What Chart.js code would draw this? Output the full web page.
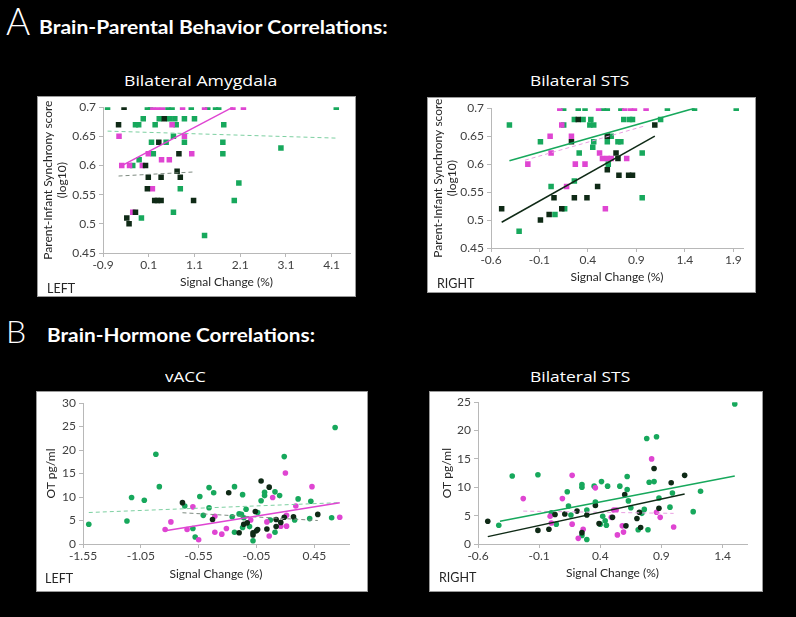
<!DOCTYPE html>
<html>
<head>
<meta charset="utf-8">
<script src="https://cdn.jsdelivr.net/npm/chart.js@4.4.0/dist/chart.umd.min.js"></script>
<style>
    body { margin: 0; background: #000; width: 796px; height: 617px; overflow: hidden; position: relative; font-family: Lato, sans-serif; color: #fff; }
    .t { position: absolute; white-space: nowrap; line-height: 1; transform-origin: 0 0; }
    .sub { font-family: 'Open Sans', Lato, sans-serif; font-weight: 400; font-size: 15px; }
    .box { position: absolute; background: #fff; border: 1px solid #9a9a9a; box-sizing: border-box; }
    .box canvas { position: absolute; left: 0; top: 0; }
    .side { color: #262626; font-size: 12.5px; z-index: 2; }
</style>
</head>
<body>

<div class="t" style="left:6px;top:2px;font-size:37px;font-weight:300;">A</div>
<div class="t fit" data-w="349" style="left:39px;top:17px;font-size:19px;font-weight:bold;">Brain-Parental Behavior Correlations:</div>
<div class="t fit sub" data-w="153" style="left:124px;top:73px;">Bilateral Amygdala</div>
<div class="t fit sub" data-w="99" style="left:530px;top:73px;">Bilateral STS</div>

<div class="t" style="left:6px;top:315px;font-size:32px;font-weight:300;">B</div>
<div class="t fit" data-w="268" style="left:47px;top:326px;font-size:18px;font-weight:bold;">Brain-Hormone Correlations:</div>
<div class="t fit sub" data-w="41" style="left:165px;top:369px;">vACC</div>
<div class="t fit sub" data-w="100" style="left:530px;top:369px;">Bilateral STS</div>

<div class="box" style="left:37px;top:96px;width:319px;height:201px;"><canvas id="amyChart" width="317" height="199"></canvas></div>
<div class="box" style="left:427px;top:97px;width:329px;height:196px;"><canvas id="stsChart" width="327" height="194"></canvas></div>
<div class="box" style="left:36px;top:391px;width:332px;height:201px;"><canvas id="vaccChart" width="330" height="199"></canvas></div>
<div class="box" style="left:429px;top:391px;width:334px;height:201px;"><canvas id="stsOtChart" width="332" height="199"></canvas></div>

<div class="t side" style="left:47px;top:283px;">LEFT</div>
<div class="t side" style="left:437px;top:278px;">RIGHT</div>
<div class="t side" style="left:45px;top:573px;">LEFT</div>
<div class="t side" style="left:439px;top:572px;">RIGHT</div>

<script>
// ================================================================
// DATA  (x = signal change %, y = synchrony score / OT pg/ml)
// ================================================================

// A - Bilateral Amygdala (LEFT)
const amyGreen = [
    [-0.80, 0.70], [0.07, 0.70], [0.14, 0.70], [0.52, 0.70], [0.61, 0.70], [1.03, 0.70], [1.39, 0.70], [1.56, 0.70], [1.63, 0.70], [4.20, 0.70],
    [-0.02, 0.68], [0.33, 0.68], [0.55, 0.68], [0.67, 0.68], [0.88, 0.68], [1.10, 0.68],
    [-0.19, 0.67], [-0.12, 0.67], [0.24, 0.67], [0.70, 0.67], [1.74, 0.67],
    [0.64, 0.65], [0.16, 0.64], [0.48, 0.64], [0.88, 0.64], [1.72, 0.64], [2.99, 0.63],
    [0.20, 0.62], [1.72, 0.62], [-0.11, 0.61], [-0.25, 0.60],
    [0.79, 0.56], [2.07, 0.57], [1.97, 0.54], [0.64, 0.52], [-0.06, 0.51], [1.32, 0.48]
];
const amyDark = [
    [-0.44, 0.70], [0.44, 0.68], [-0.56, 0.67], [0.32, 0.64], [0.76, 0.62], [0.03, 0.60], [0.72, 0.59],
    [0.09, 0.58], [0.37, 0.58], [0.79, 0.58], [0.07, 0.56], [0.23, 0.54], [0.29, 0.54], [0.37, 0.54],
    [1.08, 0.54], [-0.19, 0.52], [-0.38, 0.51], [-0.33, 0.50]
];
const amyPink = [
    [0.19, 0.70], [0.29, 0.70], [0.40, 0.70], [0.84, 0.70], [1.32, 0.70], [1.94, 0.70], [2.17, 0.70],
    [0.61, 0.67], [-0.55, 0.65], [0.88, 0.65], [0.09, 0.62], [1.04, 0.62], [0.38, 0.61], [0.55, 0.61],
    [-0.49, 0.60], [-0.32, 0.60], [-0.04, 0.60], [0.18, 0.56], [-0.25, 0.52]
];
const amyGreenFit = [[-0.80, 0.659], [4.20, 0.647]];
const amyDarkFit = [[-0.56, 0.582], [1.10, 0.589]];
const amyPinkFit = [[-0.53, 0.598], [1.94, 0.700]];
const amyXTicks = [-0.9, 0.1, 1.1, 2.1, 3.1, 4.1];
const amyYTicks = [0.45, 0.5, 0.55, 0.6, 0.65, 0.7];

// A - Bilateral STS (RIGHT)
const stsGreen = [
    [0.15, 0.70], [0.30, 0.70], [0.37, 0.70], [0.56, 0.70], [0.60, 0.70], [0.74, 0.70], [1.22, 0.70], [1.50, 0.70], [1.93, 0.70],
    [0.26, 0.68], [0.35, 0.68], [0.43, 0.68], [0.77, 0.68], [0.83, 0.68], [0.86, 0.68], [1.15, 0.68],
    [-0.41, 0.67], [0.15, 0.67], [0.42, 0.67], [0.46, 0.67], [0.64, 0.65],
    [-0.09, 0.64], [0.46, 0.64], [0.60, 0.64], [0.71, 0.64], [0.74, 0.64], [0.45, 0.63],
    [0.31, 0.62], [0.96, 0.62], [0.61, 0.60], [0.26, 0.57], [0.02, 0.56], [0.96, 0.54],
    [0.16, 0.52], [0.06, 0.51], [-0.31, 0.48]
];
const stsDark = [
    [0.30, 0.68], [1.09, 0.67], [0.60, 0.65], [0.23, 0.64], [0.69, 0.62], [0.71, 0.61], [0.60, 0.59],
    [0.72, 0.58], [0.82, 0.58], [0.86, 0.58], [0.50, 0.56], [0.05, 0.54], [0.26, 0.54], [0.39, 0.54],
    [-0.49, 0.52], [0.13, 0.52], [0.00, 0.51], [-0.09, 0.50]
];
const stsPink = [
    [0.11, 0.70], [0.51, 0.70], [0.78, 0.70], [0.84, 0.70], [0.88, 0.70], [1.00, 0.70],
    [0.13, 0.67], [0.01, 0.65], [0.23, 0.65], [0.02, 0.62], [0.52, 0.62],
    [0.55, 0.61], [0.60, 0.61], [0.64, 0.61], [0.80, 0.61],
    [-0.22, 0.60], [0.27, 0.60], [0.37, 0.60], [0.18, 0.56], [0.58, 0.52]
];
const stsGreenFit = [[-0.41, 0.606], [1.50, 0.700]];
const stsDarkFit = [[-0.49, 0.496], [1.09, 0.650]];
const stsPinkFit = [[-0.25, 0.607], [1.00, 0.669]];
const stsXTicks = [-0.6, -0.1, 0.4, 0.9, 1.4, 1.9];
const stsYTicks = [0.45, 0.5, 0.55, 0.6, 0.65, 0.7];

// B - vACC (LEFT)
const vaccGreen = [
    [-1.50, 4.2], [-1.17, 4.9], [-1.13, 9.9], [-1.02, 9.3], [-0.92, 19.1], [-0.89, 12.2], [-0.67, 8.1],
    [-0.60, 3.3], [-0.58, 1.5], [-0.54, 10.1], [-0.51, 6.1], [-0.46, 12.0], [-0.46, 7.7],
    [-0.42, 10.9], [-0.26, 5.8], [-0.24, 12.2], [-0.24, 2.5], [-0.20, 6.4], [-0.18, 6.3], [-0.17, 10.5],
    [-0.14, 7.4], [-0.16, 5.6], [-0.17, 3.5], [-0.11, 3.7], [-0.08, 0.7], [-0.04, 6.7], [-0.01, 9.2],
    [0.02, 10.3], [0.02, 11.0], [0.07, 5.1], [0.11, 11.1], [0.11, 2.5], [0.15, 10.3], [0.19, 18.6],
    [0.28, 5.1], [0.31, 9.6], [0.41, 5.4], [0.42, 9.1], [0.60, 5.6], [0.63, 24.8]
];
const vaccDark = [
    [-0.69, 8.8], [-0.43, 5.2], [-0.29, 10.9], [-0.20, 2.4], [-0.16, 4.2], [-0.13, 4.5], [-0.08, 2.4],
    [-0.08, 1.9], [-0.05, 2.8], [-0.04, 3.1], [-0.06, 6.9], [-0.01, 13.4], [0.04, 3.2], [0.06, 12.1],
    [0.12, 5.2], [0.12, 3.7], [0.16, 4.6], [0.19, 5.7], [0.27, 5.8], [0.48, 6.3]
];
const vaccPink = [
    [-0.84, 3.1], [-0.79, 4.7], [-0.65, 3.1], [-0.60, 7.9], [-0.55, 0.9], [-0.41, 5.9], [-0.41, 2.5],
    [-0.35, 2.1], [-0.31, 3.3], [-0.10, 5.1], [0.04, 4.7], [0.06, 1.7], [0.09, 9.9], [0.16, 3.8],
    [0.21, 6.1], [0.21, 3.8], [0.20, 15.1], [0.29, 8.1], [0.43, 12.2], [0.67, 5.7]
];
const vaccGreenFit = [[-1.50, 6.7], [0.67, 8.8]];
const vaccDarkFit = [[-0.69, 6.65], [0.48, 5.0]];
const vaccPinkFit = [[-0.84, 2.8], [0.67, 8.8]];
const vaccXTicks = [-1.55, -1.05, -0.55, -0.05, 0.45];
const vaccYTicks = [0, 5, 10, 15, 20, 25, 30];

// B - Bilateral STS (RIGHT)
const stsOtGreen = [
    [-0.43, 3.3], [-0.32, 12.0], [-0.11, 12.2], [0.00, 5.5], [0.04, 3.5], [0.13, 9.2], [0.14, 6.7],
    [0.16, 5.1], [0.25, 10.5], [0.25, 10.0], [0.25, 1.5], [0.29, 6.0], [0.29, 0.8], [0.35, 10.2],
    [0.36, 7.4], [0.41, 11.0], [0.42, 4.9], [0.44, 4.1], [0.45, 3.3], [0.46, 10.2], [0.40, 3.5],
    [0.56, 10.2], [0.62, 11.9], [0.62, 9.6], [0.63, 7.6], [0.65, 6.4], [0.71, 2.5], [0.74, 5.4],
    [0.76, 6.1], [0.79, 2.5], [0.78, 18.6], [0.86, 18.9], [0.80, 10.9], [0.84, 11.0], [0.88, 8.1],
    [0.97, 6.5], [0.99, 9.0], [1.16, 5.7], [1.22, 9.3], [1.50, 24.7]
];
const stsOtDark = [
    [-0.52, 4.0], [-0.11, 2.4], [-0.02, 2.6], [0.03, 5.2], [0.11, 5.3], [0.21, 5.8], [0.25, 2.0],
    [0.29, 5.1], [0.36, 6.8], [0.39, 3.6], [0.50, 4.7], [0.61, 3.2], [0.60, 8.7], [0.70, 4.5],
    [0.72, 5.6], [0.73, 2.9], [0.84, 13.3], [0.88, 6.3], [0.98, 10.8], [1.09, 12.1]
];
const stsOtPink = [
    [-0.23, 8.0], [-0.01, 4.9], [0.00, 3.7], [0.09, 8.0], [0.17, 12.1], [0.17, 3.5], [0.22, 1.0],
    [0.26, 2.6], [0.36, 9.9], [0.51, 6.0], [0.53, 6.0], [0.49, 4.7], [0.54, 1.6], [0.58, 3.2],
    [0.59, 2.1], [0.82, 15.0], [0.86, 5.6], [0.89, 4.7], [1.00, 3.0]
];
const stsOtGreenFit = [[-0.42, 4.0], [1.50, 12.0]];
const stsOtDarkFit = [[-0.52, 1.3], [1.09, 8.8]];
const stsOtPinkFit = [[-0.23, 5.8], [1.00, 5.4]];
const stsOtXTicks = [-0.6, -0.1, 0.4, 0.9, 1.4];
const stsOtYTicks = [0, 5, 10, 15, 20, 25];

// ================================================================
// STYLE
// ================================================================

const COLORS = {
    green: '#17a85c',
    dark: '#0f2a16',
    pink: '#df45d2',
    greenDash: '#7ccfa0',
    darkDash: '#7d8a80',
    pinkDash: '#eaa0e2'
};
const AXIS_COLOR = '#b8b8b8';
const TICK_COLOR = '#404040';
const FONT = { family: 'Lato', size: 12 };

// ================================================================
// HELPERS
// ================================================================

function toPoints(arr) {
    return arr.map(([x, y]) => ({ x, y }));
}

function markerSet(arr, color, style, radius) {
    return {
        data: toPoints(arr),
        backgroundColor: color,
        borderWidth: 0,
        pointStyle: style,
        pointRadius: radius,
        pointHoverRadius: radius
    };
}

function fitSet(arr, color, dashed) {
    return {
        data: toPoints(arr),
        showLine: true,
        borderColor: color,
        borderWidth: dashed ? 1 : 1.5,
        borderDash: dashed ? [4, 3] : [],
        pointRadius: 0,
        fill: false
    };
}

function makeChart(id, cfg) {
    const el = document.getElementById(id);
    return new Chart(el, {
        type: 'scatter',
        data: { datasets: cfg.datasets },
        options: {
            responsive: false,
            animation: false,
            events: [],
            layout: { padding: { left: 0, top: cfg.area.top, right: cfg.area.right, bottom: 0 } },
            plugins: { legend: { display: false }, tooltip: { enabled: false } },
            scales: {
                x: {
                    type: 'linear',
                    min: cfg.xMin,
                    max: cfg.xMax,
                    afterBuildTicks: s => { s.ticks = cfg.xTicks.map(v => ({ value: v })); },
                    afterFit: s => { s.height = cfg.area.bottom; },
                    ticks: { autoSkip: false, maxRotation: 0, padding: 1, color: TICK_COLOR, font: FONT, callback: v => String(v) },
                    grid: { display: true, drawOnChartArea: false, drawTicks: true, tickLength: 4, color: AXIS_COLOR },
                    border: { display: true, color: AXIS_COLOR },
                    title: { display: true, text: 'Signal Change (%)', color: '#262626', font: FONT, padding: { top: 0, bottom: cfg.xTitlePad } }
                },
                y: {
                    type: 'linear',
                    min: cfg.yMin,
                    max: cfg.yMax,
                    afterBuildTicks: s => { s.ticks = cfg.yTicks.map(v => ({ value: v })); },
                    afterFit: s => { s.width = cfg.area.left; },
                    ticks: { autoSkip: false, padding: 3, color: TICK_COLOR, font: FONT, callback: v => String(v) },
                    grid: { display: true, drawOnChartArea: false, drawTicks: true, tickLength: 4, color: AXIS_COLOR },
                    border: { display: true, color: AXIS_COLOR },
                    title: { display: true, text: cfg.yTitle, color: '#262626', font: FONT, padding: { top: cfg.yTitlePad, bottom: 0 } }
                }
            }
        }
    });
}

// ================================================================
// CHARTS
// ================================================================

const SYNC_TITLE = ['Parent-Infant Synchrony score', '(log10)'];

makeChart('amyChart', {
    datasets: [
        fitSet(amyPinkFit, COLORS.pink, false),
        fitSet(amyGreenFit, COLORS.greenDash, true),
        fitSet(amyDarkFit, COLORS.darkDash, true),
        markerSet(amyDark, COLORS.dark, 'rect', 3.9),
        markerSet(amyPink, COLORS.pink, 'rect', 3.9),
        markerSet(amyGreen, COLORS.green, 'rect', 3.9)
    ],
    xMin: -0.9, xMax: 4.5, xTicks: amyXTicks,
    yMin: 0.45, yMax: 0.7, yTicks: amyYTicks,
    yTitle: SYNC_TITLE, yTitlePad: 3, xTitlePad: 7,
    area: { left: 65, top: 10, right: 5, bottom: 43 }
});

makeChart('stsChart', {
    datasets: [
        fitSet(stsGreenFit, COLORS.green, false),
        fitSet(stsDarkFit, COLORS.dark, false),
        fitSet(stsPinkFit, COLORS.pinkDash, true),
        markerSet(stsDark, COLORS.dark, 'rect', 3.9),
        markerSet(stsPink, COLORS.pink, 'rect', 3.9),
        markerSet(stsGreen, COLORS.green, 'rect', 3.9)
    ],
    xMin: -0.6, xMax: 2.0, xTicks: stsXTicks,
    yMin: 0.45, yMax: 0.7, yTicks: stsYTicks,
    yTitle: SYNC_TITLE, yTitlePad: 3, xTitlePad: 8,
    area: { left: 63, top: 8, right: 12, bottom: 44 }
});

makeChart('vaccChart', {
    datasets: [
        fitSet(vaccPinkFit, COLORS.pink, false),
        fitSet(vaccGreenFit, COLORS.greenDash, true),
        fitSet(vaccDarkFit, COLORS.darkDash, true),
        markerSet(vaccDark, COLORS.dark, 'circle', 2.8),
        markerSet(vaccPink, COLORS.pink, 'circle', 2.8),
        markerSet(vaccGreen, COLORS.green, 'circle', 2.8)
    ],
    xMin: -1.55, xMax: 0.75, xTicks: vaccXTicks,
    yMin: 0, yMax: 30, yTicks: vaccYTicks,
    yTitle: 'OT pg/ml', yTitlePad: 6.5, xTitlePad: 10,
    area: { left: 46, top: 11, right: 18, bottom: 47 }
});

makeChart('stsOtChart', {
    datasets: [
        fitSet(stsOtGreenFit, COLORS.green, false),
        fitSet(stsOtDarkFit, COLORS.dark, false),
        fitSet(stsOtPinkFit, COLORS.pinkDash, true),
        markerSet(stsOtDark, COLORS.dark, 'circle', 2.8),
        markerSet(stsOtPink, COLORS.pink, 'circle', 2.8),
        markerSet(stsOtGreen, COLORS.green, 'circle', 2.8)
    ],
    xMin: -0.6, xMax: 1.6, xTicks: stsOtXTicks,
    yMin: 0, yMax: 25, yTicks: stsOtYTicks,
    yTitle: 'OT pg/ml', yTitlePad: 10, xTitlePad: 11,
    area: { left: 48, top: 10, right: 15, bottom: 47 }
});

// Stretch heading texts to the widths seen in the figure
document.querySelectorAll('.fit').forEach(el => {
    const target = Number(el.dataset.w);
    const natural = el.offsetWidth;
    if (natural > 0) el.style.transform = `scaleX(${target / natural})`;
});
</script>
</body>
</html>
